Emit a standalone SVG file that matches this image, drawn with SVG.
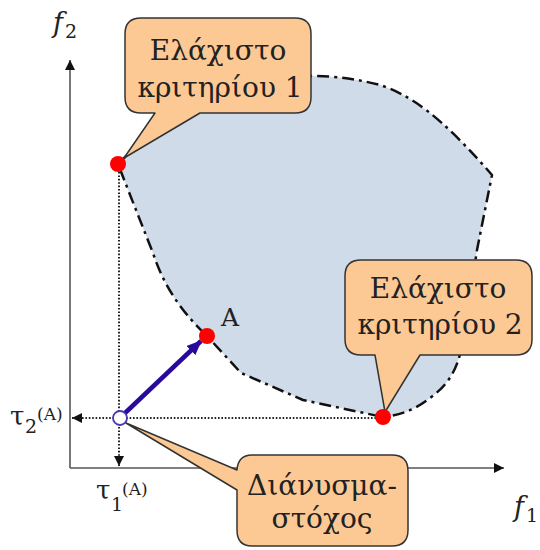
<svg xmlns="http://www.w3.org/2000/svg" width="540" height="550" viewBox="0 0 540 550">
<defs>
<style>
.region{fill:#cfdbe8;stroke:#111;stroke-width:2.5;stroke-dasharray:12 5 3 5;stroke-linejoin:round}
.callout{fill:#fcc995;stroke:#333;stroke-width:1.5;stroke-linejoin:round}
.lbl{font-family:"DejaVu Serif",serif;font-size:28px;fill:#222;text-anchor:middle}
.math{font-family:"DejaVu Serif",serif;fill:#222}
.dot{fill:#ff0000}
.axis{stroke:#555;stroke-width:1.6;fill:none}
.dotted{stroke:#222;stroke-width:2;stroke-dasharray:1.6 1.8;fill:none}
</style>
<marker id="ah" viewBox="0 0 10 10" refX="10" refY="5" markerWidth="10" markerHeight="10" markerUnits="userSpaceOnUse" orient="auto">
<path d="M0,0 L10,5 L0,10 Z" fill="#111"/>
</marker>
<marker id="ahb" viewBox="0 0 14 12" refX="13" refY="6" markerWidth="15" markerHeight="13" markerUnits="userSpaceOnUse" orient="auto">
<path d="M0,0 L14,6 L0,12 Z" fill="#2a0a9c"/>
</marker>
</defs>

<g id="feasible-region">
<path class="region" d="M118,164 L165,117 L200,100 L310,76 C340,76 360,80 380,85 C410,95 440,115 492,175 L477,250 L465,330 C460,360 455,380 430,398 C415,410 400,415 383,417 L303,400 L241,373 L207,336 C185,315 165,290 153,253 C140,220 130,195 118,164 Z"/>
</g>

<g id="axes">
<line class="axis" x1="70" y1="468" x2="70" y2="60" marker-end="url(#ah)"/>
<line class="axis" x1="70" y1="468" x2="504" y2="468" marker-end="url(#ah)"/>
<text class="math" x="53" y="32" font-size="27" font-style="italic">f</text>
<text class="math" x="65" y="38" font-size="19">2</text>
<text class="math" x="514" y="516" font-size="27" font-style="italic">f</text>
<text class="math" x="526" y="522" font-size="19">1</text>
</g>

<g id="connectors">
<line class="dotted" x1="119" y1="172" x2="119" y2="466" marker-end="url(#ah)"/>
<line class="dotted" x1="376" y1="418" x2="72" y2="418" marker-end="url(#ah)"/>
<line x1="124" y1="414" x2="201" y2="341" stroke="#2a0a9c" stroke-width="4.5" marker-end="url(#ahb)"/>
</g>

<g id="tau-labels">
<text class="math" x="10" y="425" font-size="26">τ</text>
<text class="math" x="25" y="433" font-size="19">2</text>
<text class="math" x="37" y="420" font-size="17">(A)</text>
<text class="math" x="96" y="499" font-size="26">τ</text>
<text class="math" x="111" y="511" font-size="19">1</text>
<text class="math" x="122" y="495" font-size="17">(A)</text>
</g>

<g id="point-target">
<circle cx="120" cy="418" r="7" fill="#fff" stroke="#4a3ab0" stroke-width="1.8"/>
</g>

<g id="point-A">
<circle class="dot" cx="207" cy="336" r="8"/>
<text class="math" x="221" y="326" font-size="25">A</text>
</g>

<g id="callout-min1">
<path class="callout" d="M141,18 H295 Q311,18 311,34 V97 Q311,113 295,113 H200 L124,158 L155,113 H141 Q125,113 125,97 V34 Q125,18 141,18 Z"/>
<text class="lbl" x="218" y="60">Ελάχιστο</text>
<text class="lbl" x="220" y="97">κριτηρίου 1</text>
<circle class="dot" cx="118" cy="164" r="8"/>
</g>

<g id="callout-min2">
<path class="callout" d="M361,260 H516 Q532,260 532,276 V339 Q532,355 516,355 H420 L385,412 L375,355 H361 Q345,355 345,339 V276 Q345,260 361,260 Z"/>
<text class="lbl" x="438" y="298">Ελάχιστο</text>
<text class="lbl" x="440" y="334">κριτηρίου 2</text>
<circle class="dot" cx="383" cy="417" r="8"/>
</g>

<g id="callout-target">
<path class="callout" d="M252,455 H392 Q408,455 408,471 V530 Q408,546 392,546 H252 Q237,546 237,530 V490 L126,423 L237,470 Q238,455 252,455 Z"/>
<text class="lbl" x="322" y="495">Διάνυσμα-</text>
<text class="lbl" x="322" y="528">στόχος</text>
</g>
</svg>
